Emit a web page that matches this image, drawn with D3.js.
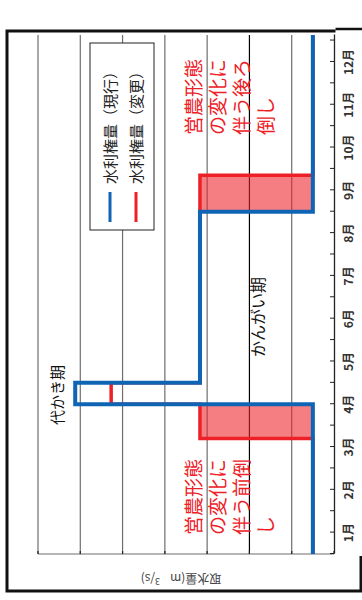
<!DOCTYPE html>
<html lang="ja">
<head>
<meta charset="UTF-8">
<title>水利権量</title>
<script src="https://d3js.org/d3.v7.min.js"></script>
<style>
  body { margin: 0; background: #fff; }
  text { font-family: "Noto Sans CJK JP", "Noto Sans", sans-serif; }
</style>
</head>
<body>
<svg id="chart" width="362" height="600"></svg>
<script>
// months on the time axis (month 0 = start of January)
const months = ["1月","2月","3月","4月","5月","6月","7月","8月","9月","10月","11月","12月"];
const monthEnd = 12.13;
const valueTicks = [0, 1, 2, 3, 4, 5, 6, 7];

// step series: value holds from break[i] until break[i+1]
const currentBreaks = [0, 3.5, 4.0, 8.0, monthEnd];
const currentValues = [0.5, 6.12, 3.17, 0.5];
const changedBreaks = [0, 2.7, 3.5, 4.0, 8.85, monthEnd];
const changedValues = [0.5, 3.17, 5.27, 3.17, 0.5];

const seriesNames = ["水利権量（現行）", "水利権量（変更）"];
const upperNote = ["営農形態", "の変化に", "伴う後ろ", "倒し"];
const lowerNote = ["営農形態", "の変化に", "伴う前倒", "し"];

const blue = "#1064b4";
const red = "#ee2027";

const svg = d3.select("#chart");
// the whole chart is drawn landscape (600 x 362) and turned a quarter to the left
const g = svg.append("g").attr("transform", "translate(0,600) rotate(-90)");

const x = d3.scaleLinear().domain([0, monthEnd]).range([46, 565]);
const y = d3.scaleLinear().domain([0, 7]).range([334, 38]);

// outer frame
g.append("rect")
  .attr("x", 9).attr("y", 7).attr("width", 560).attr("height", 354)
  .attr("fill", "none").attr("stroke", "#111").attr("stroke-width", 3);

// gridlines
g.append("g").selectAll("line").data(valueTicks.slice(1)).join("line")
  .attr("x1", x(0)).attr("x2", x(monthEnd))
  .attr("y1", d => y(d)).attr("y2", d => y(d))
  .attr("stroke", d => d === 2 ? "#000" : "#6e6e6e")
  .attr("stroke-width", 1.2);

// value axis (left side of the landscape chart)
g.append("line")
  .attr("x1", x(0)).attr("x2", x(0))
  .attr("y1", y(0)).attr("y2", y(7))
  .attr("stroke", "#6e6e6e").attr("stroke-width", 1.2);
g.append("g").selectAll("line").data(valueTicks).join("line")
  .attr("x1", x(0)).attr("x2", x(0) + 3)
  .attr("y1", d => y(d)).attr("y2", d => y(d))
  .attr("stroke", "#222").attr("stroke-width", 1.2);

// shaded gaps where the changed amount is above the current one
function valueAt(breaks, values, m) {
  let i = d3.bisectRight(breaks, m) - 1;
  return values[Math.max(0, Math.min(i, values.length - 1))];
}
const allBreaks = Array.from(new Set(currentBreaks.concat(changedBreaks))).sort((a, b) => a - b);
const gaps = [];
for (let i = 0; i < allBreaks.length - 1; i++) {
  const a = allBreaks[i], b = allBreaks[i + 1];
  const cur = valueAt(currentBreaks, currentValues, (a + b) / 2);
  const chg = valueAt(changedBreaks, changedValues, (a + b) / 2);
  if (chg > cur) gaps.push({ a, b, cur, chg });
}
g.append("g").selectAll("rect").data(gaps).join("rect")
  .attr("x", d => x(d.a)).attr("width", d => x(d.b) - x(d.a))
  .attr("y", d => y(d.chg)).attr("height", d => y(d.cur) - y(d.chg))
  .attr("fill", red).attr("fill-opacity", 0.58);

const step = d3.line().curve(d3.curveStepAfter)
  .x(d => x(d[0])).y(d => y(d[1]));
const toPoints = (breaks, values) =>
  breaks.map((b, i) => [b, values[Math.min(i, values.length - 1)]]);

g.append("path").datum(toPoints(changedBreaks, changedValues))
  .attr("fill", "none").attr("stroke", red).attr("stroke-width", 3.5)
  .attr("d", step);
g.append("path").datum(toPoints(currentBreaks, currentValues))
  .attr("fill", "none").attr("stroke", blue).attr("stroke-width", 4)
  .attr("d", step);

// white label strip that sits over the frame on the month side
g.append("rect")
  .attr("x", 44).attr("y", 335.5).attr("width", 528).attr("height", 30)
  .attr("fill", "#fff");
g.append("line")
  .attr("x1", 571).attr("x2", 571).attr("y1", 335.5).attr("y2", 362)
  .attr("stroke", "#111").attr("stroke-width", 2.5);

// month axis
g.append("g")
  .attr("transform", `translate(0,${y(0)})`)
  .call(d3.axisBottom(x).tickValues(d3.range(0, 12.01, 0.5))
    .tickSizeInner(-4).tickSizeOuter(0).tickFormat(""))
  .call(a => a.select(".domain").attr("stroke", "#222").attr("stroke-width", 1.3))
  .call(a => a.selectAll(".tick line").attr("stroke", "#222"));

g.append("g").selectAll("text").data(months).join("text")
  .attr("x", (d, i) => x(i + 0.5))
  .attr("y", 353)
  .attr("text-anchor", "middle")
  .attr("font-size", 12)
  .attr("font-weight", "bold")
  .attr("fill", "#333")
  .text(d => d);

// axis title
g.append("text")
  .attr("transform", `translate(26,${181}) rotate(-90)`)
  .attr("text-anchor", "middle")
  .attr("font-size", 12)
  .attr("fill", "#444")
  .text("取水量(m")
  .append("tspan").attr("dx", 10).attr("font-size", 9).attr("dy", -4).text("3")
  .select(function () { return this.parentNode; })
  .append("tspan").attr("dy", 4).text("/s)");

// legend
const legend = g.append("g");
legend.append("rect")
  .attr("x", 370).attr("y", 90).attr("width", 187).attr("height", 64)
  .attr("fill", "#fff").attr("stroke", "#222").attr("stroke-width", 1);
const items = legend.selectAll("g.item").data(seriesNames).join("g")
  .attr("class", "item")
  .attr("transform", (d, i) => `translate(0,${110 + i * 26})`);
items.append("line")
  .attr("x1", 378).attr("x2", 408)
  .attr("stroke", (d, i) => i === 0 ? blue : red)
  .attr("stroke-width", 3);
items.append("text")
  .attr("x", 416).attr("y", 6)
  .attr("font-size", 15).attr("fill", "#222")
  .text(d => d);

// period labels
g.append("text").attr("x", 175).attr("y", 63)
  .attr("font-size", 15).attr("fill", "#111").text("代かき期");
g.append("text").attr("x", 243).attr("y", 264)
  .attr("font-size", 16).attr("fill", "#111").text("かんがい期");

// red notes
function note(lines, x0) {
  g.append("g").selectAll("text").data(lines).join("text")
    .attr("x", x0)
    .attr("y", (d, i) => 201 + i * 24)
    .attr("font-size", 19)
    .attr("fill", red)
    .text(d => d);
}
note(upperNote, 465);
note(lowerNote, 65);
</script>
</body>
</html>
